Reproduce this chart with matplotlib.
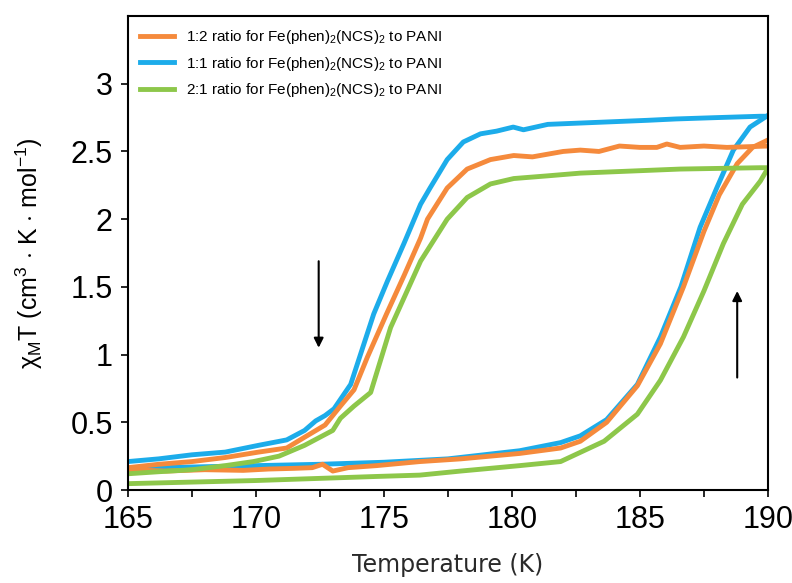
import matplotlib
matplotlib.use('Agg')
import matplotlib.pyplot as plt
from matplotlib.ticker import MultipleLocator

plt.rcParams['font.family'] = ['Liberation Sans', 'DejaVu Sans']
plt.rcParams['mathtext.fontset'] = 'custom'
plt.rcParams['mathtext.rm'] = 'Liberation Sans'
plt.rcParams['mathtext.it'] = 'Liberation Sans:italic'

# 1:1 ratio (blue)
blue_cool_T = [165, 166.2, 167.5, 168.8, 170.1, 171.2, 171.9, 172.33, 172.7, 173.05, 173.7,
               174.6, 175.13, 175.78, 176.43, 176.8, 177.47, 178.1, 178.77, 179.4, 180.05,
               180.45, 181.4, 182.7, 184, 185.3, 186.4, 188, 189.7, 190]
blue_cool_X = [0.21, 0.23, 0.26, 0.28, 0.33, 0.37, 0.44, 0.51, 0.55, 0.60, 0.78,
               1.30, 1.54, 1.82, 2.11, 2.23, 2.44, 2.57, 2.63, 2.65, 2.68,
               2.66, 2.70, 2.71, 2.72, 2.73, 2.74, 2.75, 2.76, 2.76]
blue_heat_T = [165, 167.5, 170, 172.5, 175, 177.5, 180.3, 181.9, 182.67, 183.7, 184.9,
               185.8, 186.6, 187.35, 188.0, 188.65, 189.3, 189.95]
blue_heat_X = [0.16, 0.17, 0.18, 0.19, 0.205, 0.23, 0.29, 0.35, 0.40, 0.52, 0.78,
               1.13, 1.50, 1.94, 2.23, 2.51, 2.68, 2.76]

# 1:2 ratio (orange)
orange_cool_T = [165, 166.2, 167.5, 168.8, 170.1, 171.2, 171.9, 172.7, 173.3, 173.83, 174.35,
                 175.1, 175.8, 176.43, 176.7, 177.47, 178.25, 178.77, 179.16, 180.07, 180.8,
                 181.4, 182.0, 182.67, 183.4, 184.2, 185.0, 185.66, 186.05, 186.57, 187.5,
                 188.4, 190]
orange_cool_X = [0.165, 0.19, 0.21, 0.24, 0.28, 0.31, 0.39, 0.48, 0.62, 0.74, 0.98,
                 1.30, 1.59, 1.86, 2.0, 2.23, 2.37, 2.41, 2.44, 2.47, 2.46,
                 2.48, 2.50, 2.51, 2.50, 2.54, 2.53, 2.53, 2.555, 2.53, 2.54,
                 2.53, 2.54]
orange_heat_T = [165, 166.5, 168, 169.5, 170.5, 171.5, 172.2, 172.6, 173.0, 173.6, 174.7,
                 176.4, 178, 180.3, 181.9, 182.67, 183.7, 184.9, 185.8, 186.7, 187.5,
                 188.1, 188.8, 189.4, 189.95]
orange_heat_X = [0.15, 0.14, 0.15, 0.145, 0.155, 0.16, 0.165, 0.19, 0.14, 0.165, 0.18,
                 0.21, 0.23, 0.27, 0.31, 0.36, 0.50, 0.77, 1.08, 1.50, 1.91,
                 2.18, 2.41, 2.53, 2.58]

# 2:1 ratio (green)
green_cool_T = [165, 166.2, 167.5, 168.8, 169.9, 170.9, 171.9, 173.0, 173.3, 173.83, 174.48,
                175.26, 176.43, 177.47, 178.25, 179.16, 180.07, 181.4, 182.67, 183.97,
                186.57, 189.7, 190]
green_cool_X = [0.12, 0.135, 0.15, 0.18, 0.21, 0.25, 0.33, 0.44, 0.53, 0.62, 0.72,
                1.20, 1.69, 2.0, 2.16, 2.26, 2.30, 2.32, 2.34, 2.35,
                2.37, 2.38, 2.38]
green_heat_T = [165, 170, 174.7, 176.4, 178, 180.3, 181.9, 183.6, 184.9, 185.8, 186.7,
                187.5, 188.26, 189.0, 189.7, 189.95]
green_heat_X = [0.047, 0.07, 0.10, 0.11, 0.14, 0.18, 0.21, 0.36, 0.56, 0.81, 1.13,
                1.47, 1.82, 2.11, 2.28, 2.36]

labels = [r'1:2 ratio for Fe(phen)$_2$(NCS)$_2$ to PANI',
          r'1:1 ratio for Fe(phen)$_2$(NCS)$_2$ to PANI',
          r'2:1 ratio for Fe(phen)$_2$(NCS)$_2$ to PANI']

c_orange = '#F58A3C'
c_blue = '#1CACEA'
c_green = '#8DC74A'

fig = plt.figure(figsize=(7.92, 5.83), dpi=100)
ax = fig.add_axes([0.1616, 0.1595, 0.808, 0.813])

lw = 3.5
hb, = ax.plot(blue_cool_T, blue_cool_X, color=c_blue, lw=lw)
ax.plot(blue_heat_T, blue_heat_X, color=c_blue, lw=lw)
ho, = ax.plot(orange_cool_T, orange_cool_X, color=c_orange, lw=lw)
ax.plot(orange_heat_T, orange_heat_X, color=c_orange, lw=lw)
hg, = ax.plot(green_cool_T, green_cool_X, color=c_green, lw=lw)
ax.plot(green_heat_T, green_heat_X, color=c_green, lw=lw)

# cooling / heating arrows
ax.annotate('', xy=(172.45, 1.03), xytext=(172.45, 1.71),
            arrowprops=dict(arrowstyle='-|>', color='black', lw=1.5, mutation_scale=14))
ax.annotate('', xy=(188.8, 1.49), xytext=(188.8, 0.81),
            arrowprops=dict(arrowstyle='-|>', color='black', lw=1.5, mutation_scale=14))

ax.set_xlim(165, 190)
ax.set_ylim(0, 3.5)
ax.xaxis.set_major_locator(MultipleLocator(5))
ax.xaxis.set_minor_locator(MultipleLocator(2.5))
ax.set_yticks([0, 0.5, 1, 1.5, 2, 2.5, 3])
ax.set_yticklabels(['0', '0.5', '1', '1.5', '2', '2.5', '3'])
ax.tick_params(axis='both', which='major', labelsize=22, length=5, width=1.2, direction='out')
ax.tick_params(axis='x', which='major', pad=6)
ax.tick_params(axis='y', which='major', pad=6)
ax.tick_params(axis='x', which='minor', length=5, width=1.2, direction='out')
for s in ax.spines.values():
    s.set_linewidth(1.5)

ax.set_xlabel('Temperature (K)', fontsize=17, family='DejaVu Sans', color='#2a2a2a')
ax.xaxis.set_label_coords(0.5, -0.133)
ax.set_ylabel(r'χ$_\mathrm{M}$T (cm$^3$ $\cdot$ K $\cdot$ mol$^{-1}$)', fontsize=18)
ax.yaxis.set_label_coords(-0.13, 0.5)

ax.legend([ho, hb, hg], labels, loc='upper left', bbox_to_anchor=(0.0, 1.0),
          frameon=False, fontsize=11, handlelength=2.2, handletextpad=0.8,
          labelspacing=0.55, borderaxespad=0.4)

fig.savefig('out.png', dpi=100)
